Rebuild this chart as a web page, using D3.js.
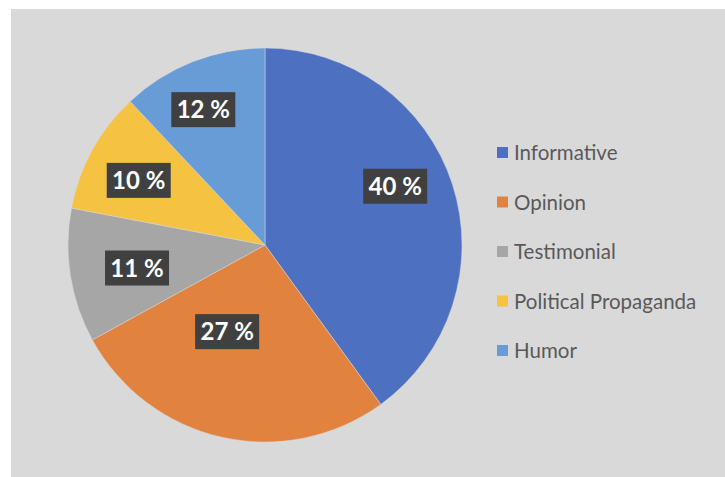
<!DOCTYPE html>
<html><head><meta charset="utf-8">
<script src="https://cdn.jsdelivr.net/npm/d3@7"></script>
<style>html,body{margin:0;padding:0;background:#fff;}svg{display:block;}</style>
</head><body>
<svg id="chart" width="725" height="477"></svg>
<script>
const categories = ["Informative", "Opinion", "Testimonial", "Political Propaganda", "Humor"];
const values = [40, 27, 11, 10, 12];
const labels = ["40 %", "27 %", "11 %", "10 %", "12 %"];
const colors = ["#4e70c1", "#e1833f", "#a6a6a6", "#f5c242", "#689cd7"];
// label placement (fraction of radius, angular shift in degrees) — mimics Excel "best fit"
const labelRadius = [0.725, 0.48, 0.66, 0.72, 0.755];
const labelShift = [-6.3, 11, -1.2, -1.7, -2.9];

const svg = d3.select("#chart");
svg.append("rect").attr("x", 11).attr("y", 9).attr("width", 714).attr("height", 468).attr("fill", "#d9d9d9");

const cx = 265, cy = 245, r = 197;
const pie = d3.pie().sort(null).value(d => d)(values);
const arc = d3.arc().innerRadius(0).outerRadius(r);
const g = svg.append("g").attr("transform", `translate(${cx},${cy})`);
g.selectAll("path").data(pie).join("path")
  .attr("d", arc).attr("fill", (d, i) => colors[i])
  .attr("stroke", "#d9d9d9").attr("stroke-width", 0.5);

const lg = g.selectAll("g.lbl").data(pie).join("g").attr("class", "lbl")
  .attr("transform", (d, i) => {
    const a = (d.startAngle + d.endAngle) / 2 + labelShift[i] * Math.PI / 180;
    const rr = r * labelRadius[i];
    return `translate(${rr * Math.sin(a)},${-rr * Math.cos(a)})`;
  });
lg.append("rect").attr("x", -32).attr("y", -17.5).attr("width", 64).attr("height", 35).attr("fill", "#404040");
lg.append("text").attr("text-anchor", "middle").attr("dy", "0.36em")
  .attr("font-family", "Lato, 'Open Sans', sans-serif").attr("font-weight", "bold").attr("font-size", 24)
  .attr("fill", "#fff").text((d, i) => labels[i]);

const legY = d3.scalePoint().domain(categories).range([153, 351]);
const leg = svg.append("g").selectAll("g").data(categories).join("g")
  .attr("transform", d => `translate(497,${legY(d)})`);
leg.append("rect").attr("x", 0).attr("y", -6).attr("width", 11).attr("height", 11).attr("fill", (d, i) => colors[i]);
leg.append("text").attr("x", 17).attr("dy", "0.35em")
  .attr("font-family", "Lato, 'Open Sans', sans-serif").attr("font-size", 20.5).attr("fill", "#595959").text(d => d);
</script>
</body></html>
